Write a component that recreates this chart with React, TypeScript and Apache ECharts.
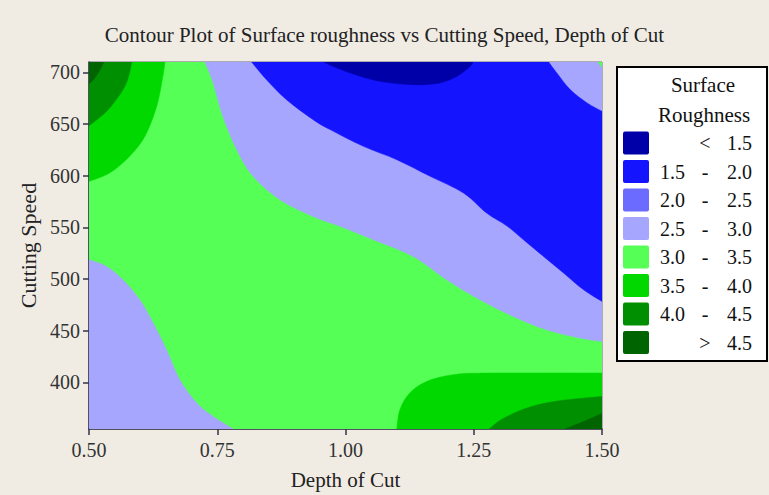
import React, { useEffect, useRef } from "react";
import * as echarts from "echarts";

// Axes
const depthRange = [0.5, 1.5];
const speedRange = [355, 710];
const depthTicks = [0.5, 0.75, 1.0, 1.25, 1.5];
const speedTicks = [400, 450, 500, 550, 600, 650, 700];

// Legend levels (Surface Roughness)
const levelLow = ["", "1.5", "2.0", "2.5", "3.0", "3.5", "4.0", ""];
const levelSign = ["<", "-", "-", "-", "-", "-", "-", ">"];
const levelHigh = ["1.5", "2.0", "2.5", "3.0", "3.5", "4.0", "4.5", "4.5"];
const levelColors = ["#0000A8", "#1414FF", "#6B6BFF", "#A6A6FF", "#55FF55", "#00D800", "#008F00", "#006400"];

// Contour regions: vertices as [Depth of Cut, Cutting Speed]
const band30to35Full = [[0.5, 355], [1.5, 355], [1.5, 710], [0.5, 710]];
const below30Upper = [
  [0.726, 710], [1.5, 710], [1.5, 439.7], [1.457, 443.0], [1.392, 450.9], [1.327, 463.9],
  [1.262, 480.0], [1.197, 499.4], [1.132, 521.9], [1.054, 538.1], [0.989, 551.0],
  [0.937, 560.6], [0.872, 576.8], [0.820, 599.4], [0.788, 625.2], [0.761, 657.4],
  [0.742, 689.8],
];
const below30Lower = [
  [0.5, 355], [0.5, 518.7], [0.534, 512.3], [0.566, 499.4], [0.599, 480.0], [0.625, 457.5],
  [0.651, 431.6], [0.677, 402.6], [0.710, 380.1], [0.742, 367.1], [0.781, 355],
];
const below20 = [
  [0.817, 710], [1.396, 710], [1.412, 699.4], [1.438, 683.3], [1.471, 670.4], [1.5, 662.3],
  [1.5, 478.4], [1.464, 489.7], [1.425, 505.9], [1.386, 521.9], [1.347, 538.1],
  [1.314, 551.6], [1.275, 563.9], [1.230, 583.3], [1.165, 599.4], [1.100, 615.5],
  [1.035, 628.4], [0.970, 644.6], [0.937, 654.2], [0.885, 673.6], [0.846, 692.9],
];
const below15 = [
  [0.958, 710], [0.972, 706.5], [1.009, 699.4], [1.067, 691.3], [1.132, 688.1],
  [1.184, 689.8], [1.217, 696.1], [1.243, 705.8], [1.248, 710],
];
const above30Corner = [[1.492, 710], [1.5, 710], [1.5, 705]];
const above35TopLeft = [
  [0.5, 710], [0.648, 710], [0.644, 696.1], [0.632, 667.1], [0.609, 638.1],
  [0.579, 618.7], [0.540, 602.6], [0.5, 594.5],
];
const above40TopLeft = [
  [0.5, 710], [0.583, 710], [0.579, 699.4], [0.570, 686.5], [0.553, 673.6],
  [0.531, 660.7], [0.5, 648.4],
];
const above45TopLeft = [[0.5, 710], [0.529, 710], [0.520, 701], [0.509, 693], [0.5, 689]];
const above35BottomRight = [
  [1.100, 355], [1.106, 373.6], [1.125, 389.7], [1.158, 401.0], [1.210, 407.5],
  [1.282, 409.1], [1.5, 409.1], [1.5, 355],
];
const above40BottomRight = [
  [1.280, 355], [1.305, 364.5], [1.355, 375.5], [1.412, 382.0], [1.5, 386.5], [1.5, 355],
];
const above45BottomRight = [[1.428, 355], [1.465, 362.5], [1.5, 370], [1.5, 355]];

// draw order, level index for colour
const regions = [
  { pts: band30to35Full, level: 4 },
  { pts: below30Upper, level: 3 },
  { pts: below30Lower, level: 3 },
  { pts: below20, level: 1 },
  { pts: below15, level: 0 },
  { pts: above30Corner, level: 4 },
  { pts: above35TopLeft, level: 5 },
  { pts: above40TopLeft, level: 6 },
  { pts: above45TopLeft, level: 7 },
  { pts: above35BottomRight, level: 5 },
  { pts: above40BottomRight, level: 6 },
  { pts: above45BottomRight, level: 7 },
];

const SERIF = "'Liberation Serif', 'Times New Roman', serif";

function onFrame(p: number[], q: number[]) {
  if (p[0] === q[0] && (p[0] === depthRange[0] || p[0] === depthRange[1])) return true;
  if (p[1] === q[1] && (p[1] === speedRange[0] || p[1] === speedRange[1])) return true;
  return false;
}

// Smooth path: straight along frame edges, Catmull-Rom curves along contour lines
function buildPath(data: number[][], pix: number[][]) {
  const n = data.length;
  let d = `M${pix[0][0]},${pix[0][1]}`;
  for (let i = 0; i < n; i++) {
    const i0 = (i - 1 + n) % n, i2 = (i + 1) % n, i3 = (i + 2) % n;
    const p1 = pix[i], p2 = pix[i2];
    if (onFrame(data[i], data[i2])) {
      d += ` L${p2[0]},${p2[1]}`;
      continue;
    }
    const p0 = onFrame(data[i0], data[i]) ? p1 : pix[i0];
    const p3 = onFrame(data[i2], data[i3]) ? p2 : pix[i3];
    const c1 = [p1[0] + (p2[0] - p0[0]) / 6, p1[1] + (p2[1] - p0[1]) / 6];
    const c2 = [p2[0] - (p3[0] - p1[0]) / 6, p2[1] - (p3[1] - p1[1]) / 6];
    d += ` C${c1[0]},${c1[1]} ${c2[0]},${c2[1]} ${p2[0]},${p2[1]}`;
  }
  return d + " Z";
}

export default function App() {
  const ref = useRef<HTMLDivElement>(null);
  useEffect(() => {
    if (!ref.current) return;
    const chart = echarts.init(ref.current, null, { renderer: "svg" });

    const legendX = 617;
    const legendY = 67;
    const rowY0 = 143;
    const rowStep = 28.5;
    const legendGraphics: any[] = [
      {
        type: "rect",
        shape: { x: legendX, y: legendY, width: 150, height: 294 },
        style: { fill: "#FFFFFF", stroke: "#000000", lineWidth: 2 },
      },
      {
        type: "text",
        x: 703, y: 85,
        style: { text: "Surface", font: `21px ${SERIF}`, fill: "#111", align: "center", verticalAlign: "middle" },
      },
      {
        type: "text",
        x: 704, y: 115,
        style: { text: "Roughness", font: `21px ${SERIF}`, fill: "#111", align: "center", verticalAlign: "middle" },
      },
    ];
    levelColors.forEach((c, i) => {
      const cy = rowY0 + i * rowStep;
      legendGraphics.push({
        type: "rect",
        shape: { x: 623, y: cy - 11.5, width: 26, height: 23, r: 2 },
        style: { fill: c },
      });
      if (levelLow[i]) {
        legendGraphics.push({
          type: "text", x: 685, y: cy,
          style: { text: levelLow[i], font: `20px ${SERIF}`, fill: "#111", align: "right", verticalAlign: "middle" },
        });
      }
      legendGraphics.push({
        type: "text", x: 705, y: cy,
        style: { text: levelSign[i], font: `20px ${SERIF}`, fill: "#111", align: "center", verticalAlign: "middle" },
      });
      legendGraphics.push({
        type: "text", x: 752, y: cy,
        style: { text: levelHigh[i], font: `20px ${SERIF}`, fill: "#111", align: "right", verticalAlign: "middle" },
      });
    });

    chart.setOption({
      animation: false,
      backgroundColor: "#F0ECE4",
      title: {
        text: "Contour Plot of Surface roughness vs Cutting Speed, Depth of Cut",
        left: "center",
        top: 19,
        textStyle: { fontFamily: SERIF, fontSize: 21, fontWeight: "normal", color: "#222" },
      },
      grid: {
        left: 89, right: 167, top: 62, bottom: 66,
        show: true, borderColor: "#6a6a7a", borderWidth: 1, backgroundColor: "transparent",
      },
      xAxis: {
        type: "value",
        min: depthRange[0], max: depthRange[1], interval: 0.25,
        name: "Depth of Cut", nameLocation: "middle", nameGap: 40,
        nameTextStyle: { fontFamily: SERIF, fontSize: 21, color: "#222" },
        axisLine: { show: true, lineStyle: { color: "#333348", width: 1.5 } },
        axisTick: { show: true, length: 6, lineStyle: { color: "#333348", width: 1.5 }, customValues: depthTicks },
        axisLabel: {
          fontFamily: SERIF, fontSize: 20, color: "#333", margin: 11,
          customValues: depthTicks,
          formatter: (v: number) => v.toFixed(2),
        },
        splitLine: { show: false },
      },
      yAxis: {
        type: "value",
        min: speedRange[0], max: speedRange[1],
        name: "Cutting Speed", nameLocation: "middle", nameGap: 50,
        nameTextStyle: { fontFamily: SERIF, fontSize: 22, color: "#222" },
        axisLine: { show: true, lineStyle: { color: "#333348", width: 1.5 } },
        axisTick: { show: true, length: 6, lineStyle: { color: "#333348", width: 1.5 }, customValues: speedTicks },
        axisLabel: { fontFamily: SERIF, fontSize: 20, color: "#333", margin: 9, customValues: speedTicks },
        splitLine: { show: false },
      },
      series: [
        {
          type: "custom",
          coordinateSystem: "cartesian2d",
          silent: true,
          clip: true,
          z: 1,
          data: regions.map((r, i) => [r.pts[0][0], r.pts[0][1], i]),
          encode: { x: 0, y: 1 },
          renderItem: (params: any, api: any) => {
            const r = regions[params.dataIndex];
            const pix = r.pts.map((p) => api.coord(p));
            return {
              type: "path",
              shape: { pathData: buildPath(r.pts, pix) },
              style: { fill: levelColors[r.level], stroke: levelColors[r.level], lineWidth: 0.5 },
            };
          },
        },
      ],
      graphic: legendGraphics,
    });
    return () => chart.dispose();
  }, []);
  return (
    <div
      ref={ref}
      style={{ position: "fixed", left: 0, top: 0, width: 769, height: 495 }}
    />
  );
}
